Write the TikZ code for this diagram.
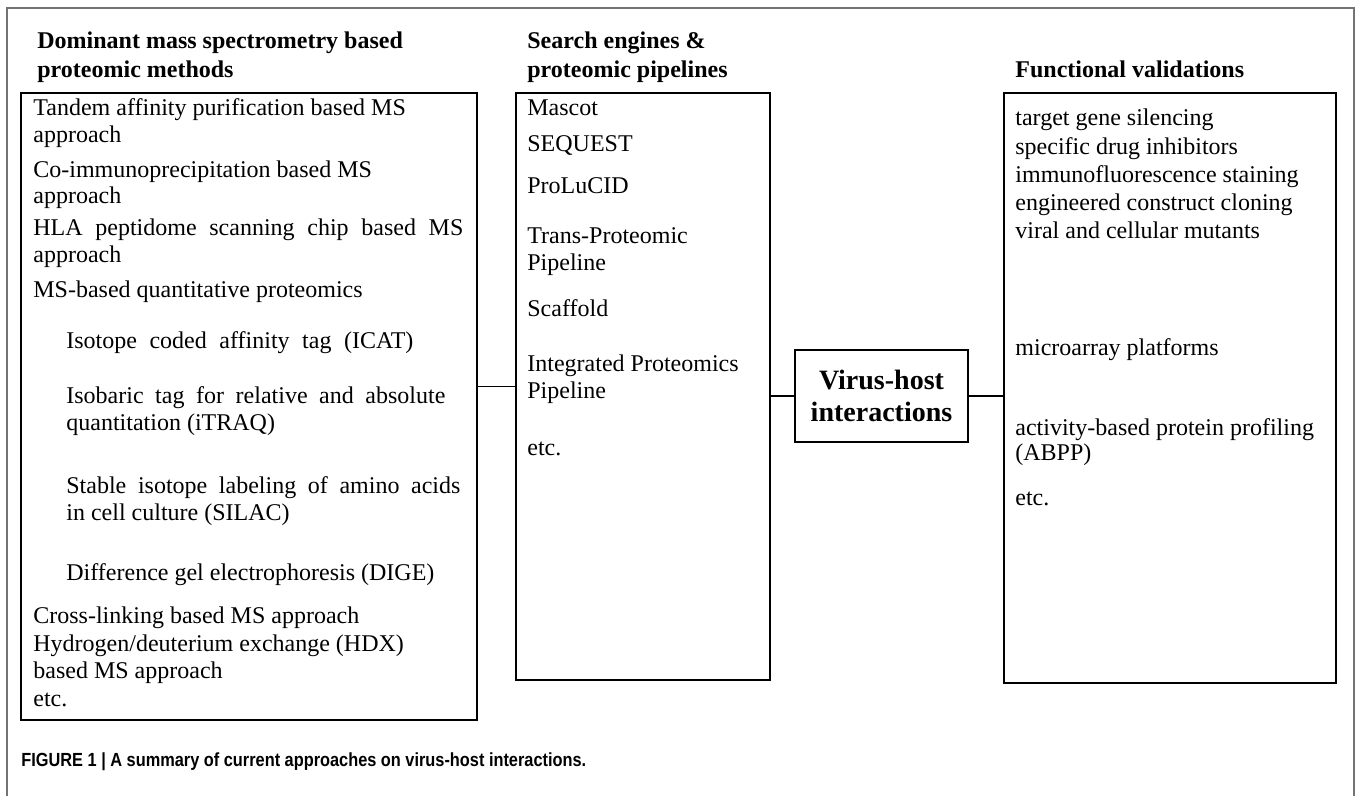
\documentclass[tikz,border=0pt]{standalone}
\usepackage{fontspec}
\setmainfont{Liberation Serif}
\newfontfamily\capfont[FakeStretch=0.86]{Liberation Sans}
\usepackage{tikz}
\usetikzlibrary{positioning,calc}

\newcommand{\spread}[2]{\makebox[#1][s]{#2}}

\begin{document}
\begin{tikzpicture}[x=0.5pt, y=-0.5pt,
    box/.style={draw, line width=1pt, inner sep=0pt},
    item/.style={anchor=base west, inner sep=0pt, font=\fontsize{12}{13.5}\selectfont},
    head/.style={anchor=base west, inner sep=0pt, font=\fontsize{12}{14}\selectfont\bfseries},
    link/.style={line width=0.8pt},
    frame/.style={draw=black!55, line width=0.7pt}
]
\useasboundingbox (0,0) rectangle (1355,796);

% Frame
\draw[frame] (7,796) -- (7,8) -- (1354,8) -- (1354,796);

% Boxes
\node[box, minimum width=228pt, minimum height=313.5pt] (methods) at (249,406.5) {};
\node[box, minimum width=127pt, minimum height=293.5pt] (tools) at (643,386.5) {};
\node[box, minimum width=86.5pt, minimum height=46pt, align=center,
      font=\fontsize{14}{16}\selectfont\bfseries] (vh) at (881.5,396) {Virus-host\\interactions};
\node[box, minimum width=166pt, minimum height=295pt] (valid) at (1170,388) {};

% Headings
\node[head] (h1a) at (37,49) {Dominant mass spectrometry based};
\node[head] (h1b) at (37,78) {proteomic methods};
\node[head] (h2a) at (527,49) {Search engines \&};
\node[head] (h2b) at (527,78) {proteomic pipelines};
\node[head] (h3) at (1015,78) {Functional validations};

% Methods
\node[item] (m1) at (33,116) {Tandem affinity purification based MS};
\node[item] (m2) at (33,143) {approach};
\node[item] (m3) at (33,178) {Co-immunoprecipitation based MS};
\node[item] (m4) at (33,204) {approach};
\node[item] (m5) at (33,236) {\spread{215pt}{HLA peptidome scanning chip based MS}};
\node[item] (m6) at (33,263) {approach};
\node[item] (m7) at (33,298) {MS-based quantitative proteomics};
\node[item] (m8) at (66,349) {\spread{173.5pt}{Isotope coded affinity tag (ICAT)}};
\node[item] (m9) at (66,404) {\spread{189.5pt}{Isobaric tag for relative and absolute}};
\node[item] (m10) at (66,431) {quantitation (iTRAQ)};
\node[item] (m11) at (66,494) {\spread{197pt}{Stable isotope labeling of amino acids}};
\node[item] (m12) at (66,521) {in cell culture (SILAC)};
\node[item] (m13) at (66,581) {Difference gel electrophoresis (DIGE)};
\node[item] (m14) at (33,623) {Cross-linking based MS approach};
\node[item] (m15) at (33,651) {Hydrogen/deuterium exchange (HDX)};
\node[item] (m16) at (33,678) {based MS approach};
\node[item] (m17) at (33,706) {etc.};

% Search engines and pipelines
\node[item] (t1) at (527,116) {Mascot};
\node[item] (t2) at (527,152) {SEQUEST};
\node[item] (t3) at (527,194) {ProLuCID};
\node[item] (t4) at (527,244) {Trans-Proteomic};
\node[item] (t5) at (527,271) {Pipeline};
\node[item] (t6) at (527,317) {Scaffold};
\node[item] (t7) at (527,372) {Integrated Proteomics};
\node[item] (t8) at (527,399) {Pipeline};
\node[item] (t9) at (527,456) {etc.};

% Validations
\node[item] (v1) at (1015,126) {target gene silencing};
\node[item] (v2) at (1015,155) {specific drug inhibitors};
\node[item] (v3) at (1015,183) {immunofluorescence staining};
\node[item] (v4) at (1015,211) {engineered construct cloning};
\node[item] (v5) at (1015,239) {viral and cellular mutants};
\node[item] (v6) at (1015,356) {microarray platforms};
\node[item] (v7) at (1015,436) {activity-based protein profiling};
\node[item] (v8) at (1015,461) {(ABPP)};
\node[item] (v9) at (1015,506) {etc.};

% Links
\draw[link] (methods.east |- tools.west) -- (tools.west);
\draw[link] (tools.east |- vh.west) -- (vh.west);
\draw[link] (vh.east) -- (vh.east -| valid.west);

% Caption
\node[anchor=base west, inner sep=0pt, font=\capfont\fontsize{9.5}{11}\selectfont\bfseries] (cap) at (21,766)
    {FIGURE 1 | A summary of current approaches on virus-host interactions.};

\end{tikzpicture}
\end{document}
